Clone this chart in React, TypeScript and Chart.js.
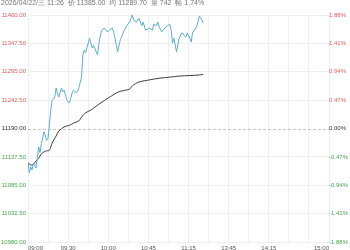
import React, { useEffect, useRef } from 'react';
import { Chart, registerables } from 'chart.js';

Chart.register(...registerables);

const headerText = '2026/04/22/三 11:26  价 11385.00  均 11289.70  量 742  幅 1.74%';
const baseValue = 11190;
const yTicks = [10980, 11032.5, 11085, 11137.5, 11190, 11242.5, 11295, 11347.5, 11400];
const gridMinutes = [0, 15, 30, 45, 60, 75, 90, 105, 120, 135, 150, 165, 180, 195, 210, 225];
const xTickMinutes = [0, 30, 60, 90, 120, 150, 180, 225];
const xTickLabels = ['09:00', '09:30', '10:00', '10:45', '11:15', '13:45', '14:15', '15:00'];

const priceMinutes = [
  0, 1, 2, 3, 4, 6, 7, 8, 9, 10, 12, 13, 14, 15, 17, 18, 20, 21, 22, 23, 25, 26, 27, 28, 29, 31, 32, 33, 34, 36,
  37, 38, 40, 41, 42, 43, 44, 46, 47, 48, 49, 51, 52, 53, 55, 57, 59, 61, 63, 64, 66, 67, 69, 72, 74, 76, 78, 79,
  81, 83, 85, 86, 88, 91, 93, 94, 96, 97, 98, 100, 103, 106, 107, 108, 109, 111, 112, 113, 115, 118, 119, 121,
  122, 123, 126, 127, 128, 130, 131,
];
const priceValues = [
  11128, 11108, 11119, 11113, 11126, 11117, 11137, 11156, 11145, 11162, 11184, 11176, 11168, 11172, 11224, 11242,
  11248, 11265, 11256, 11248, 11265, 11258, 11261, 11252, 11243, 11237, 11246, 11256, 11261, 11256, 11258, 11265,
  11285, 11326, 11335, 11330, 11339, 11357, 11348, 11339, 11344, 11332, 11326, 11348, 11372, 11376, 11369, 11372,
  11376, 11369, 11345, 11332, 11354, 11372, 11381, 11387, 11400, 11391, 11387, 11394, 11380, 11387, 11372, 11376,
  11372, 11383, 11380, 11387, 11378, 11369, 11378, 11383, 11372, 11348, 11357, 11332, 11345, 11357, 11367, 11359,
  11367, 11357, 11350, 11367, 11378, 11387, 11398, 11391, 11385,
];

const avgMinutes = [0, 3, 6, 8, 10, 13, 16, 18, 21, 23, 27, 31, 34, 38, 40, 43, 47, 53, 61, 68, 76, 78, 83, 91, 98, 106, 113, 121, 128, 131];
const avgValues = [
  11126, 11122, 11130, 11135, 11143, 11148, 11150, 11163, 11176, 11185, 11193, 11196, 11200, 11204, 11211, 11219,
  11224, 11235, 11248, 11258, 11263, 11269, 11276, 11280, 11283, 11285, 11287, 11288, 11289, 11290,
];

const RED = '#e25b5b';
const GREEN = '#45a94f';
const DARK = '#333333';

function tickColor(v: number) {
  if (Math.abs(v - baseValue) < 1e-6) return DARK;
  return v > baseValue ? RED : GREEN;
}

export default function App() {
  const ref = useRef<HTMLCanvasElement | null>(null);

  useEffect(() => {
    if (!ref.current) return;
    const zeroLine = {
      id: 'zeroLine',
      beforeDatasetsDraw(chart: any) {
        const { ctx, chartArea, scales } = chart;
        const y = Math.round(scales.y.getPixelForValue(baseValue)) + 0.5;
        ctx.save();
        ctx.strokeStyle = '#c4c4c4';
        ctx.lineWidth = 1;
        ctx.setLineDash([3, 2]);
        ctx.beginPath();
        ctx.moveTo(chartArea.left, y);
        ctx.lineTo(chartArea.right, y);
        ctx.stroke();
        ctx.restore();
      },
    };
    const header = {
      id: 'header',
      afterDraw(chart: any) {
        const ctx = chart.ctx;
        ctx.save();
        ctx.font = "7px 'Liberation Sans', Arial, sans-serif";
        ctx.fillStyle = '#777777';
        ctx.textBaseline = 'alphabetic';
        ctx.textAlign = 'left';
        ctx.fillText(headerText, 1, 5);
        ctx.restore();
      },
    };
    const chart = new Chart(ref.current, {
      type: 'line',
      data: {
        datasets: [
          {
            data: priceMinutes.map((m, i) => ({ x: m, y: priceValues[i] })),
            borderColor: '#5aaed6',
            borderWidth: 1,
            pointRadius: 0,
            tension: 0,
            yAxisID: 'y',
          },
          {
            data: avgMinutes.map((m, i) => ({ x: m, y: avgValues[i] })),
            borderColor: '#3c3c3c',
            borderWidth: 1,
            pointRadius: 0,
            tension: 0.3,
            yAxisID: 'y',
          },
        ],
      },
      options: {
        responsive: false,
        animation: false,
        layout: { padding: { top: 15, left: 0, right: 0, bottom: 0 } },
        plugins: { legend: { display: false }, tooltip: { enabled: false }, title: { display: false } },
        scales: {
          x: {
            type: 'linear',
            min: 0,
            max: 225,
            afterBuildTicks: (s: any) => {
              s.ticks = gridMinutes.map((v) => ({ value: v }));
            },
            afterFit: (s: any) => {
              s.height = 8;
            },
            grid: { color: '#efefef', drawTicks: false, lineWidth: 1 },
            border: { display: false },
            ticks: {
              autoSkip: false,
              maxRotation: 0,
              minRotation: 0,
              padding: 3,
              align: 'inner',
              font: { size: 6 },
              color: '#555555',
              callback: (v: any) => {
                const i = xTickMinutes.indexOf(Number(v));
                return i >= 0 ? xTickLabels[i] : '';
              },
            },
          },
          y: {
            position: 'left',
            min: yTicks[0],
            max: yTicks[yTicks.length - 1],
            afterBuildTicks: (s: any) => {
              s.ticks = yTicks.map((v) => ({ value: v }));
            },
            afterFit: (s: any) => {
              s.width = 28;
            },
            grid: {
              drawTicks: false,
              color: (ctx: any) => (ctx.tick && Math.abs(ctx.tick.value - baseValue) < 1e-6 ? 'rgba(0,0,0,0)' : '#efefef'),
            },
            border: { display: false },
            ticks: {
              padding: 2,
              font: { size: 6 },
              color: (ctx: any) => tickColor(ctx.tick ? ctx.tick.value : 0),
              callback: (v: any) => Number(v).toFixed(2),
            },
          },
          y1: {
            position: 'right',
            min: yTicks[0],
            max: yTicks[yTicks.length - 1],
            afterBuildTicks: (s: any) => {
              s.ticks = yTicks.map((v) => ({ value: v }));
            },
            afterFit: (s: any) => {
              s.width = 21;
            },
            grid: { display: false, drawTicks: false },
            border: { display: false },
            ticks: {
              padding: 0,
              font: { size: 6 },
              color: (ctx: any) => tickColor(ctx.tick ? ctx.tick.value : 0),
              callback: (v: any) => (((Number(v) - baseValue) / baseValue) * 100).toFixed(2) + '%',
            },
          },
        },
      },
      plugins: [zeroLine, header],
    } as any);
    return () => chart.destroy();
  }, []);

  return (
    <div style={{ position: 'fixed', left: 0, top: 0, width: 350, height: 250, background: '#fff' }}>
      <canvas ref={ref} width={350} height={250} style={{ display: 'block' }} />
    </div>
  );
}
